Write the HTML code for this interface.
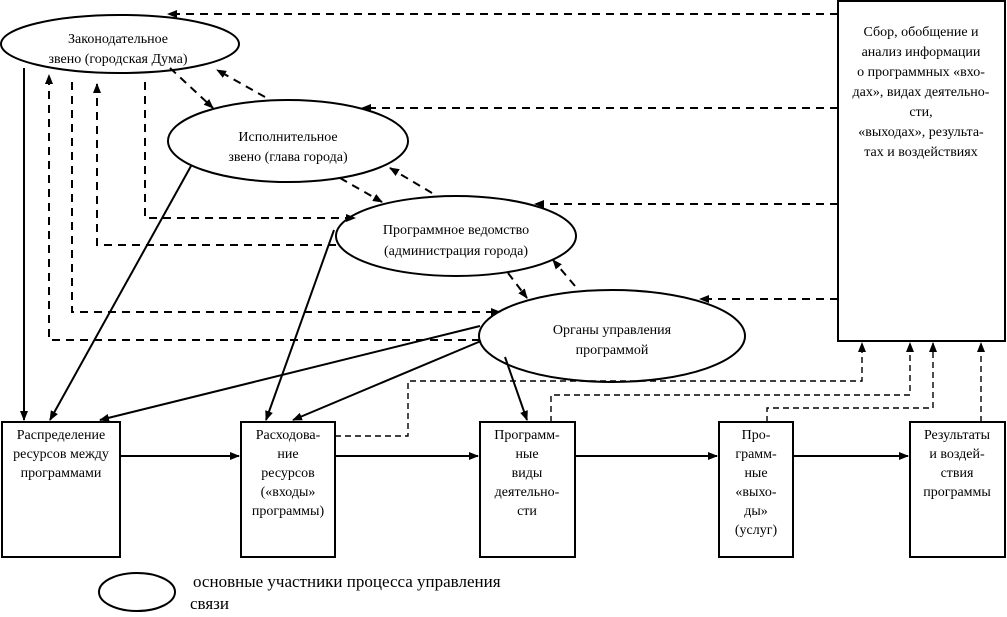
<!DOCTYPE html>
<html><head><meta charset="utf-8"><style>
body{margin:0;background:#fff}
svg text{font-family:"Liberation Serif",serif;font-size:14px;fill:#000}
</style></head><body>
<svg width="1007" height="612" viewBox="0 0 1007 612" xmlns="http://www.w3.org/2000/svg">
<defs>
<marker id="a" markerWidth="10" markerHeight="8" refX="9" refY="4" orient="auto" markerUnits="userSpaceOnUse"><path d="M0,0 L10,4 L0,8 z" fill="#000"/></marker>
</defs>
<g fill="none" stroke="#000" stroke-width="2">
<ellipse cx="120" cy="44" rx="119" ry="29"/>
<ellipse cx="288" cy="141" rx="120" ry="41"/>
<ellipse cx="456" cy="236" rx="120" ry="40"/>
<ellipse cx="612" cy="336" rx="133" ry="46"/>
<rect x="838" y="1" width="167" height="340"/>
<rect x="2" y="422" width="118" height="135"/>
<rect x="241" y="422" width="94" height="135"/>
<rect x="480" y="422" width="95" height="135"/>
<rect x="719" y="422" width="74" height="135"/>
<rect x="910" y="422" width="95" height="135"/>
<ellipse cx="137" cy="592" rx="38" ry="19"/>
</g>
<g stroke="#000" stroke-width="2" fill="none" marker-end="url(#a)">
<line x1="120" y1="456" x2="239" y2="456"/>
<line x1="335" y1="456" x2="478" y2="456"/>
<line x1="575" y1="456" x2="717" y2="456"/>
<line x1="793" y1="456" x2="908" y2="456"/>
<line x1="24" y1="68" x2="24" y2="420"/>
<line x1="191" y1="166" x2="50" y2="420"/>
<line x1="334" y1="230" x2="266" y2="420"/>
<line x1="480" y1="326" x2="100" y2="420"/>
<line x1="481" y1="341" x2="293" y2="420"/>
<line x1="505" y1="357" x2="527" y2="420"/>
</g>
<g stroke="#000" stroke-width="2" fill="none" stroke-dasharray="8,6" marker-end="url(#a)">
<line x1="838" y1="14" x2="168" y2="14"/>
<line x1="838" y1="108" x2="362" y2="108"/>
<line x1="838" y1="204" x2="535" y2="204"/>
<line x1="838" y1="299" x2="700" y2="299"/>
<polyline points="336,245 97,245 97,84"/>
<polyline points="480,340 49,340 49,75"/>
<polyline points="72,82 72,312 500,312"/>
<polyline points="145,82 145,218 355,218"/>
<line x1="170" y1="68" x2="213" y2="108"/>
<line x1="265" y1="97" x2="217" y2="70"/>
<line x1="340" y1="178" x2="382" y2="202"/>
<line x1="432" y1="193" x2="390" y2="168"/>
<line x1="508" y1="273" x2="527" y2="298"/>
<line x1="575" y1="286" x2="553" y2="260"/>
</g>
<g stroke="#000" stroke-width="1.4" fill="none" stroke-dasharray="6,4" marker-end="url(#a)">
<polyline points="335,436 408,436 408,381 862,381 862,343"/>
<polyline points="551,422 551,395 910,395 910,343"/>
<polyline points="767,422 767,408 933,408 933,343"/>
<line x1="981" y1="422" x2="981" y2="343"/>
</g>
<g text-anchor="middle">
<text x="118" y="43">Законодательное</text>
<text x="118" y="63">звено (городская Дума)</text>
<text x="288" y="141">Исполнительное</text>
<text x="288" y="161">звено (глава города)</text>
<text x="456" y="234">Программное ведомство</text>
<text x="456" y="255">(администрация города)</text>
<text x="612" y="334">Органы управления</text>
<text x="612" y="354">программой</text>
<text x="921" y="36">Сбор, обобщение и</text>
<text x="921" y="56">анализ информации</text>
<text x="921" y="76">о программных «вхо-</text>
<text x="921" y="96">дах», видах деятельно-</text>
<text x="921" y="116">сти,</text>
<text x="921" y="136">«выходах», результа-</text>
<text x="921" y="156">тах и воздействиях</text>
<text x="61" y="439">Распределение</text>
<text x="61" y="458">ресурсов между</text>
<text x="61" y="477">программами</text>
<text x="288" y="439">Расходова-</text>
<text x="288" y="458">ние</text>
<text x="288" y="477">ресурсов</text>
<text x="288" y="496">(«входы»</text>
<text x="288" y="515">программы)</text>
<text x="527" y="439">Программ-</text>
<text x="527" y="458">ные</text>
<text x="527" y="477">виды</text>
<text x="527" y="496">деятельно-</text>
<text x="527" y="515">сти</text>
<text x="756" y="439">Про-</text>
<text x="756" y="458">грамм-</text>
<text x="756" y="477">ные</text>
<text x="756" y="496">«выхо-</text>
<text x="756" y="515">ды»</text>
<text x="756" y="534">(услуг)</text>
<text x="957" y="439">Результаты</text>
<text x="957" y="458">и воздей-</text>
<text x="957" y="477">ствия</text>
<text x="957" y="496">программы</text>
</g>
<text x="193" y="587" style="font-size:17px">основные участники процесса управления</text>
<text x="190" y="609" style="font-size:17px">связи</text>
</svg>
</body></html>
